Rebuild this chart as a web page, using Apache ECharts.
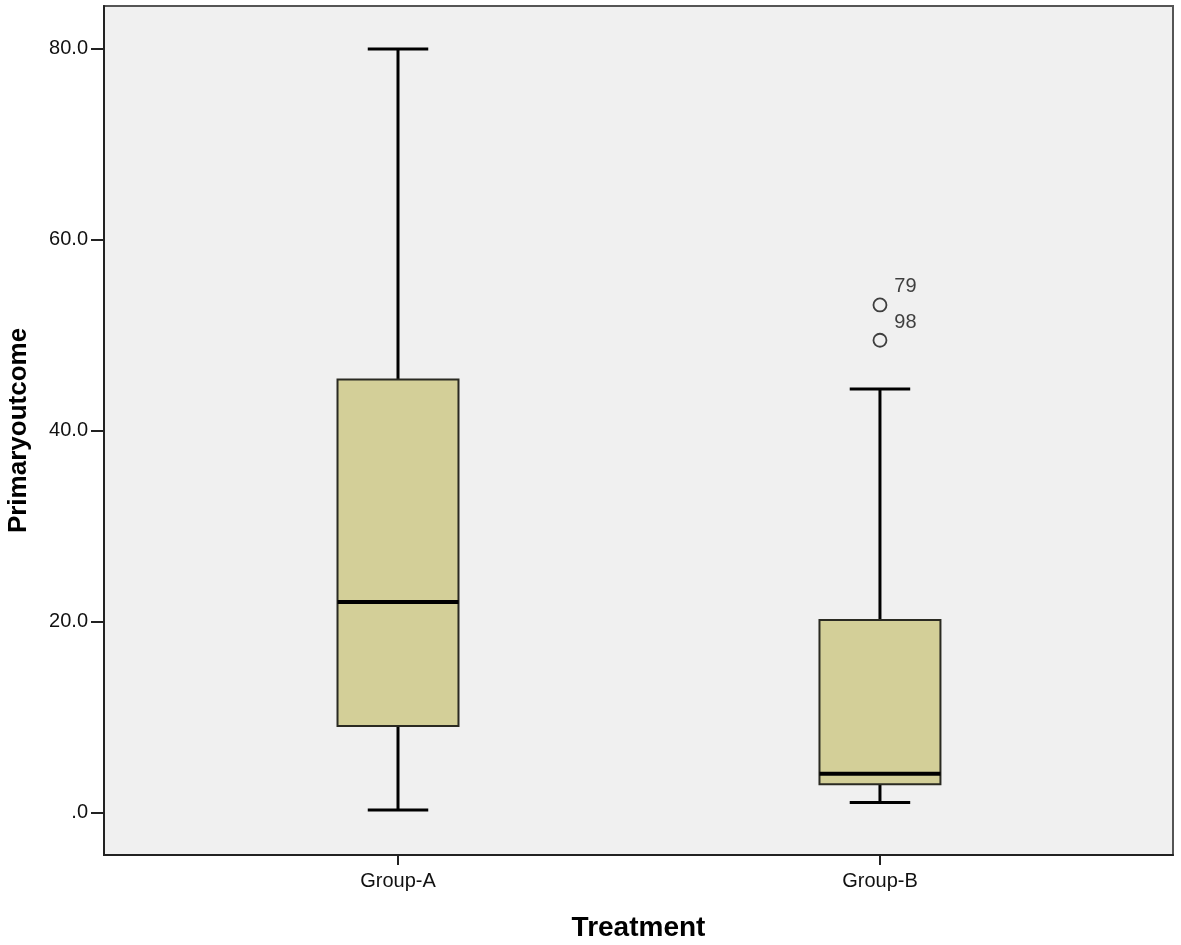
<!DOCTYPE html>
<html>
<head>
<meta charset="utf-8">
<script src="https://cdn.jsdelivr.net/npm/echarts@6/dist/echarts.min.js"></script>
<style>
  body { margin: 0; padding: 0; background: #fff; }
  #chart { width: 1181px; height: 945px; }
</style>
</head>
<body>
<div id="chart"></div>
<script>
// box plot summary
const categories = ["Group-A", "Group-B"];
const lowWhisker = [0.3, 1.1];
const q1Vals = [9.1, 3.0];
const medians = [22.1, 4.1];
const q3Vals = [45.4, 20.2];
const highWhisker = [80.0, 44.4];
// outliers: [group position, value, case label]
const outlierGroup = [2, 2];
const outlierValues = [53.2, 49.5];
const outlierLabels = ["79", "98"];
const yTicks = [0, 20, 40, 60, 80];

const boxData = categories.map((c, i) => [i + 1, lowWhisker[i], q1Vals[i], medians[i], q3Vals[i], highWhisker[i]]);
const outlierData = outlierValues.map((v, i) => ({ value: [outlierGroup[i], v], label: outlierLabels[i] }));

const BOX_W = 0.251; // box width in x-axis units

function renderBox(params, api) {
  const x = api.value(0);
  const half = api.size([BOX_W, 0])[0] / 2;
  const pLow = api.coord([x, api.value(1)]);
  const pQ1 = api.coord([x, api.value(2)]);
  const pMed = api.coord([x, api.value(3)]);
  const pQ3 = api.coord([x, api.value(4)]);
  const pHigh = api.coord([x, api.value(5)]);
  const cx = pQ1[0];
  const lineStyle = { stroke: "#000", lineWidth: 3 };
  return {
    type: "group",
    children: [
      // whiskers
      { type: "line", shape: { x1: cx, y1: pQ3[1], x2: cx, y2: pHigh[1] }, style: lineStyle },
      { type: "line", shape: { x1: cx, y1: pQ1[1], x2: cx, y2: pLow[1] }, style: lineStyle },
      { type: "line", shape: { x1: cx - half / 2, y1: pHigh[1], x2: cx + half / 2, y2: pHigh[1] }, style: lineStyle },
      { type: "line", shape: { x1: cx - half / 2, y1: pLow[1], x2: cx + half / 2, y2: pLow[1] }, style: lineStyle },
      // box
      {
        type: "rect",
        shape: { x: cx - half, y: pQ3[1], width: half * 2, height: pQ1[1] - pQ3[1] },
        style: { fill: "#d3cf98", stroke: "#2a2a22", lineWidth: 2 }
      },
      // median
      { type: "line", shape: { x1: cx - half, y1: pMed[1], x2: cx + half, y2: pMed[1] }, style: { stroke: "#000", lineWidth: 4 } }
    ]
  };
}

const chart = echarts.init(document.getElementById("chart"));
chart.setOption({
  animation: false,
  textStyle: { fontFamily: "Liberation Sans, Arial, sans-serif" },
  grid: {
    left: 104, top: 6, right: 8, bottom: 90,
    outerBoundsMode: "none",
    show: true,
    backgroundColor: "#f0f0f0",
    borderColor: "#555",
    borderWidth: 2
  },
  xAxis: {
    type: "value",
    min: 0.39,
    max: 2.608,
    name: "Treatment",
    nameLocation: "middle",
    nameGap: 59,
    nameTextStyle: { fontSize: 28, fontWeight: "bold", color: "#000", fontFamily: "Liberation Sans" },
    axisLine: { show: true, onZero: false, lineStyle: { color: "#222", width: 2 } },
    axisTick: { show: true, customValues: [1, 2], length: 10, lineStyle: { color: "#222", width: 2 } },
    axisLabel: {
      customValues: [1, 2],
      formatter: v => categories[Math.round(v) - 1],
      fontSize: 20, color: "#111", margin: 16
    },
    splitLine: { show: false }
  },
  yAxis: {
    type: "value",
    min: -4.4,
    max: 84.5,
    name: "Primaryoutcome",
    nameLocation: "middle",
    nameGap: 72,
    nameTextStyle: { fontSize: 26, fontWeight: "bold", color: "#000", fontFamily: "Liberation Sans" },
    axisLine: { show: true, onZero: false, lineStyle: { color: "#222", width: 2 } },
    axisTick: { show: true, customValues: yTicks, length: 13, lineStyle: { color: "#222", width: 2 } },
    axisLabel: {
      customValues: yTicks,
      formatter: v => (v === 0 ? ".0" : v.toFixed(1)),
      fontSize: 20, color: "#111", margin: 16
    },
    splitLine: { show: false }
  },
  series: [
    {
      type: "custom",
      renderItem: renderBox,
      encode: { x: 0, y: [1, 2, 3, 4, 5] },
      data: boxData,
      z: 2
    },
    {
      type: "scatter",
      symbol: "circle",
      symbolSize: 13,
      itemStyle: { color: "#f0f0f0", borderColor: "#111", borderWidth: 1.8 },
      label: {
        show: true,
        formatter: p => p.data.label,
        position: "right",
        offset: [2, -18],
        fontSize: 20,
        color: "#111"
      },
      data: outlierData,
      z: 3
    }
  ]
});
</script>
</body>
</html>
